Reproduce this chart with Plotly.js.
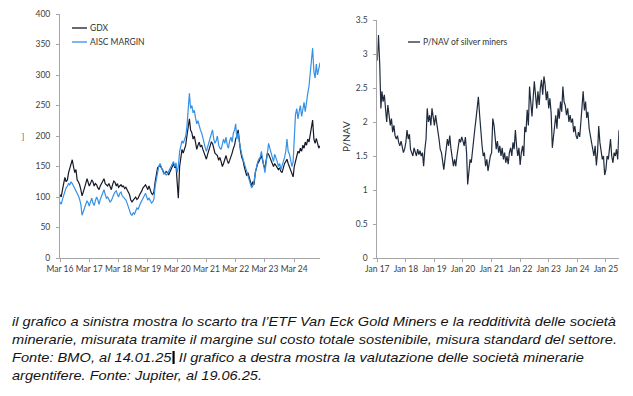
<!DOCTYPE html>
<html>
<head>
<meta charset="utf-8">
<script src="https://cdn.plot.ly/plotly-3.0.1.min.js"></script>
<style>
  html, body { margin: 0; padding: 0; background: #fff; }
  #wrap { position: relative; width: 633px; height: 396px; overflow: hidden; }
  #chart { position: absolute; left: 0; top: 0; width: 633px; height: 396px; }
  .cap { position: absolute; left: 12px; white-space: nowrap; font-family: "Liberation Sans", Arial, sans-serif;
         font-style: italic; font-size: 13.5px; color: #141414; line-height: 18px; transform-origin: 0 50%; }
  .cursor { display: inline-block; width: 2px; height: 13px; background: #000; vertical-align: -2px; margin-left: 1px; }
</style>
</head>
<body>
<div id="wrap">
  <div id="chart"></div>
  <div class="cap" id="c1" style="top:313px">il grafico a sinistra mostra lo scarto tra l’ETF Van Eck Gold Miners e la redditività delle società</div>
  <div class="cap" id="c2" style="top:331px">minerarie, misurata tramite il margine sul costo totale sostenibile, misura standard del settore.</div>
  <div class="cap" id="c3" style="top:349px">Fonte: BMO, al 14.01.25<span class="cursor"></span> Il grafico a destra mostra la valutazione delle società minerarie</div>
  <div class="cap" id="c4" style="top:367px">argentifere. Fonte: Jupiter, al 19.06.25.</div>
</div>
<script>
// ---------------- DATA ----------------
// Left chart: semi-monthly observations (1st and 16th), Mar 2016 -> Jan 2025
const leftStart = [2016, 3];
const gdx = [
  // 2016 Mar-Dec
  104,100,112,120,132,125,128,140,148,155,161,150,140,145,128,125,120,112,102,108,
  // 2017
  118,122,130,124,118,122,128,125,118,122,120,115,112,118,122,125,130,122,120,118,122,115,112,120,
  // 2018
  126,124,118,122,116,118,120,117,118,114,116,112,108,104,95,92,95,97,100,96,98,103,106,110,
  // 2019
  115,118,120,116,112,118,110,106,104,108,125,140,148,150,152,148,145,140,138,142,140,136,142,145,
  // 2020
  150,155,148,152,125,98,150,170,178,172,180,185,200,215,228,210,205,195,200,190,178,185,190,182,
  // 2021
  185,178,172,168,162,170,178,182,190,188,180,172,170,168,160,165,158,150,155,162,168,160,155,160,
  // 2022
  165,172,180,185,195,200,210,190,175,165,160,150,140,135,140,132,122,118,125,120,140,150,155,158,
  // 2023
  162,168,160,150,148,160,172,170,165,158,152,150,155,152,148,145,148,142,140,150,155,158,162,155,
  // 2024
  150,145,138,133,150,160,168,175,172,180,175,185,180,190,185,195,190,205,215,226,195,188,196,185,
  // 2025
  180,184
];
const aiscMargin = [
  // 2016 Mar-Dec
  92,88,96,102,110,115,118,122,120,125,122,118,115,112,108,102,96,88,70,76,
  // 2017
  82,88,94,90,85,92,98,90,86,94,100,95,88,96,102,108,112,104,98,100,96,92,94,100,
  // 2018
  104,108,110,104,100,106,108,102,100,98,95,90,84,78,72,70,74,72,78,82,80,86,90,94,
  // 2019
  98,102,106,100,95,98,94,90,92,96,118,130,142,150,155,148,142,138,140,136,138,142,146,150,
  // 2020
  152,158,150,156,140,150,175,185,192,188,195,200,215,240,270,245,250,238,242,230,220,225,215,210,
  // 2021
  205,195,185,180,175,182,190,198,205,210,195,188,192,200,185,180,178,190,195,188,198,185,180,192,
  // 2022
  198,190,205,210,220,195,205,190,178,170,162,155,148,140,135,128,120,115,118,125,140,150,158,162,
  // 2023
  165,175,165,150,140,155,175,188,180,172,162,158,170,165,158,150,155,145,150,158,165,175,195,175,
  // 2024
  170,160,150,158,200,235,245,228,240,250,232,245,255,240,262,270,282,300,320,344,305,295,318,300,
  // 2025
  310,320
];
const leftTickLabels = ['Mar 16','Mar 17','Mar 18','Mar 19','Mar 20','Mar 21','Mar 22','Mar 23','Mar 24'];

// Right chart: semi-monthly observations, Jan 2017 -> Jun 2025
const rightStart = [2017, 1];
const pnav = [
  // 2017
  2.9,3.28,2.85,2.2,2.45,2.3,2.4,2.15,2.0,2.25,2.1,1.95,2.05,1.85,1.95,1.8,1.75,1.8,1.7,1.65,1.72,1.6,1.55,1.6,
  // 2018
  1.7,1.88,1.75,1.82,1.6,1.55,1.5,1.62,1.55,1.5,1.6,1.52,1.58,1.5,1.55,1.35,1.6,1.75,2.2,2.0,2.1,1.95,2.2,2.05,
  // 2019
  1.95,2.1,2.0,1.85,1.75,1.6,1.55,1.45,1.3,1.45,1.6,1.75,1.65,1.8,1.6,1.5,1.35,1.45,1.35,1.5,1.6,1.75,1.7,1.78,
  // 2020
  1.72,1.65,1.78,1.55,1.08,1.3,1.45,1.4,1.6,1.75,1.9,2.05,2.2,2.37,2.1,1.85,1.65,1.5,1.55,1.35,1.45,1.28,1.42,1.5,
  // 2021
  1.55,2.05,1.95,1.7,1.6,1.72,1.55,1.65,1.5,1.62,1.45,1.55,1.4,1.5,1.38,1.55,1.62,1.5,1.7,1.6,1.88,1.65,1.5,1.62,
  // 2022
  1.37,1.55,1.65,1.5,1.93,1.85,2.18,1.95,2.52,2.3,2.08,2.35,2.6,2.4,2.2,2.45,2.25,2.5,2.62,2.4,2.67,2.55,2.32,2.45,
  // 2023
  2.2,2.35,2.13,1.62,1.8,1.95,2.1,1.9,2.2,2.05,2.3,2.15,2.52,2.3,2.24,2.1,2.2,2.0,2.1,1.99,2.05,1.85,1.94,1.8,
  // 2024
  1.75,1.85,1.78,2.0,2.2,2.45,2.17,2.3,2.06,2.15,1.9,1.8,1.75,1.6,1.5,1.65,1.36,1.55,1.94,1.7,1.58,1.45,1.5,1.22,
  // 2025 Jan-Jun
  1.3,1.5,1.45,1.6,1.75,1.5,1.4,1.55,1.5,1.6,1.45,1.88
];
const rightTickLabels = ['Jan 17','Jan 18','Jan 19','Jan 20','Jan 21','Jan 22','Jan 23','Jan 24','Jan 25'];

// ---------------- HELPERS ----------------
function semiMonthlyDates(start, n) {
  const out = [];
  let y = start[0], m = start[1];
  for (let i = 0; i < n; i++) {
    const d = (i % 2 === 0) ? '01' : '16';
    out.push(y + '-' + String(m).padStart(2, '0') + '-' + d);
    if (i % 2 === 1) { m++; if (m > 12) { m = 1; y++; } }
  }
  return out;
}
const W = 633, H = 396;
const px = v => v / W;
const py = v => 1 - v / H;

const leftDates = semiMonthlyDates(leftStart, gdx.length);
const rightDates = semiMonthlyDates(rightStart, pnav.length);
const leftTickVals = leftTickLabels.map(t => '20' + t.slice(4) + '-03-01');
const rightTickVals = rightTickLabels.map(t => '20' + t.slice(4) + '-01-01');

const tickFont = { family: 'Lato, "Open Sans", sans-serif', size: 8.5, color: '#404040' };
const axisCommon = {
  showgrid: false, zeroline: false, showline: true, linecolor: '#a6a6a6', linewidth: 1,
  ticks: 'outside', ticklen: 3, tickcolor: '#a6a6a6', tickwidth: 1, tickfont: tickFont, fixedrange: true
};

const GDX_COLOR = '#161a28';
const AISC_COLOR = '#3590e6';
const PNAV_COLOR = '#1f2b3d';

const traces = [
  { x: leftDates, y: gdx, type: 'scatter', mode: 'lines', name: 'GDX',
    line: { color: GDX_COLOR, width: 1.2 }, xaxis: 'x', yaxis: 'y' },
  { x: leftDates, y: aiscMargin, type: 'scatter', mode: 'lines', name: 'AISC MARGIN',
    line: { color: AISC_COLOR, width: 1.2 }, xaxis: 'x', yaxis: 'y' },
  { x: rightDates, y: pnav, type: 'scatter', mode: 'lines', name: 'P/NAV of silver miners',
    line: { color: PNAV_COLOR, width: 1.2 }, xaxis: 'x2', yaxis: 'y2' }
];

const legFont = { family: 'Lato, "Open Sans", sans-serif', size: 8.5, color: '#333' };

const layout = {
  width: W, height: H,
  margin: { l: 0, r: 0, t: 0, b: 0 },
  paper_bgcolor: '#fff', plot_bgcolor: '#fff',
  showlegend: false,
  xaxis: Object.assign({}, axisCommon, {
    domain: [px(60), px(320)], type: 'date', range: ['2016-03-01', '2025-01-16'],
    tickmode: 'array', tickvals: leftTickVals, ticktext: leftTickLabels, anchor: 'y'
  }),
  yaxis: Object.assign({}, axisCommon, {
    domain: [py(258), py(14)], range: [0, 400], dtick: 50, tick0: 0, anchor: 'x', ticklabelstandoff: 4
  }),
  xaxis2: Object.assign({}, axisCommon, {
    domain: [px(377.3), px(618.9)], type: 'date', range: ['2017-01-01', '2025-06-16'],
    tickmode: 'array', tickvals: rightTickVals, ticktext: rightTickLabels, anchor: 'y2'
  }),
  yaxis2: Object.assign({}, axisCommon, {
    domain: [py(258), py(20)], range: [0, 3.5], dtick: 0.5, tick0: 0, anchor: 'x2', ticklabelstandoff: 4
  }),
  shapes: [
    { type: 'line', xref: 'paper', yref: 'paper', x0: px(72), x1: px(87), y0: py(28), y1: py(28), line: { color: GDX_COLOR, width: 1.3 } },
    { type: 'line', xref: 'paper', yref: 'paper', x0: px(72), x1: px(87), y0: py(42), y1: py(42), line: { color: AISC_COLOR, width: 1.3 } },
    { type: 'line', xref: 'paper', yref: 'paper', x0: px(408), x1: px(420), y0: py(42), y1: py(42), line: { color: PNAV_COLOR, width: 1.3 } }
  ],
  annotations: [
    { xref: 'paper', yref: 'paper', x: px(88), y: py(28), xanchor: 'left', yanchor: 'middle', text: 'GDX', showarrow: false, font: legFont },
    { xref: 'paper', yref: 'paper', x: px(88), y: py(42), xanchor: 'left', yanchor: 'middle', text: 'AISC MARGIN', showarrow: false, font: legFont },
    { xref: 'paper', yref: 'paper', x: px(420.5), y: py(42), xanchor: 'left', yanchor: 'middle', text: 'P/NAV of silver miners', showarrow: false, font: legFont },
    { xref: 'paper', yref: 'paper', x: px(346), y: py(137), xanchor: 'center', yanchor: 'middle', text: 'P/NAV', textangle: -90, showarrow: false,
      font: { family: 'Lato, "Open Sans", sans-serif', size: 10, color: '#333' } },
    { xref: 'paper', yref: 'paper', x: px(23), y: py(137), xanchor: 'center', yanchor: 'middle', text: ']', showarrow: false,
      font: { family: 'Lato, sans-serif', size: 7, color: '#333' } }
  ]
};

Plotly.newPlot('chart', traces, layout, { displayModeBar: false, staticPlot: true });

// fit caption lines to the measured widths of the reference
const capTargets = { c1: 604, c2: 605, c3: 572, c4: 250 };
Object.keys(capTargets).forEach(id => {
  const el = document.getElementById(id);
  const w = el.getBoundingClientRect().width;
  if (w > 0) el.style.transform = 'scaleX(' + (capTargets[id] / w).toFixed(4) + ')';
});
</script>
</body>
</html>
